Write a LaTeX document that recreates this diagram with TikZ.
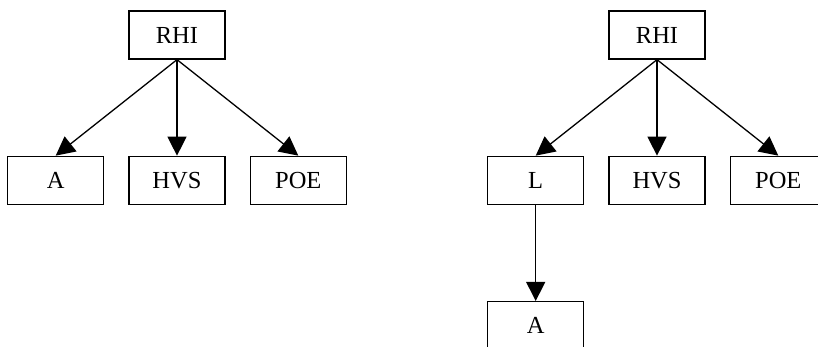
\documentclass[tikz,border=0pt]{standalone}
\usepackage{fontspec}
\setmainfont{Liberation Serif}
\usetikzlibrary{positioning,arrows.meta}

\begin{document}
\begin{tikzpicture}[node distance = 96pt and 24pt,
  nodes={draw, line width=1.3pt, minimum width=96pt, minimum height=48pt,
    inner sep=0pt, font=\fontsize{24.5}{28}\selectfont},
  arr/.style = {line width=1.3pt,-{Triangle[length=19pt,width=19pt]}}
  ]
  \clip (0pt,0pt) rectangle (818pt,-346pt);
  % left tree
  \node (rhi) at (177pt,-35pt) {RHI};
  \node (hvs) [below=of rhi] {HVS};
  \node (a)   [left=of hvs]  {A};
  \node (poe) [right=of hvs] {POE};

  \draw[arr] (rhi.south) -- (a.north);
  \draw[arr] (rhi.south) -- (hvs.north);
  \draw[arr] (rhi.south) -- (poe.north);

  % right tree
  \node (rhi-r) at (657pt,-35pt) {RHI};
  \node (hvs-r) [below=of rhi-r] {HVS};
  \node (l-r)   [left=of hvs-r]  {L};
  \node (poe-r) [right=of hvs-r] {POE};
  \node (a-r)   [below=of l-r]   {A};

  \draw[arr] (rhi-r.south) -- (l-r.north);
  \draw[arr] (rhi-r.south) -- (hvs-r.north);
  \draw[arr] (rhi-r.south) -- (poe-r.north);
  \draw[arr] (l-r.south) -- (a-r.north);
\end{tikzpicture}
\end{document}
